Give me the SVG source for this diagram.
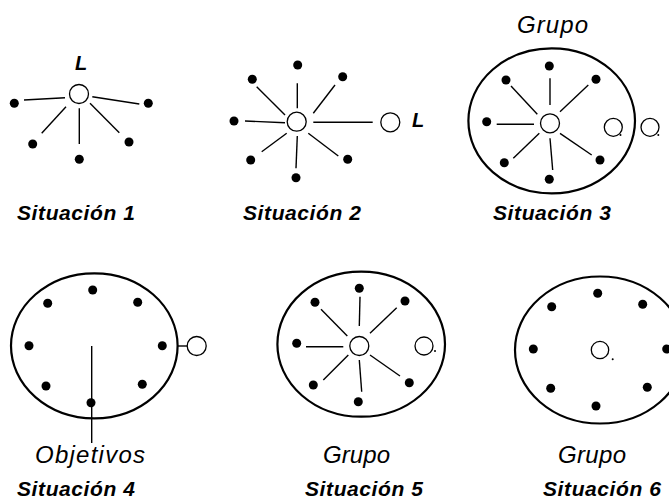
<svg xmlns="http://www.w3.org/2000/svg" width="669" height="502" viewBox="0 0 669 502">
<style>
.bg{fill:#fff}
.dot{fill:#000}
.open{fill:#fff;stroke:#000;stroke-width:1.3}
.grp{fill:none;stroke:#000;stroke-width:2.2}
.ln{stroke:#000;stroke-width:1.4;fill:none}
.sit{font-family:"Liberation Sans",Arial,sans-serif;font-weight:bold;font-style:italic;font-size:21px;fill:#000}
.lab{font-family:"Liberation Sans",Arial,sans-serif;font-style:italic;font-size:24px;fill:#000}
.L{font-family:"Liberation Sans",Arial,sans-serif;font-weight:bold;font-style:italic;font-size:20px;fill:#000}
</style>
<rect class="bg" width="669" height="502"/>
<g id="connectors">
  <line class="ln" x1="24" y1="100" x2="65" y2="97.7"/>
  <line class="ln" x1="92.3" y1="96.7" x2="139.3" y2="104"/>
  <line class="ln" x1="66" y1="106.7" x2="41.7" y2="133.3"/>
  <line class="ln" x1="79.3" y1="108.3" x2="79.3" y2="144"/>
  <line class="ln" x1="90" y1="103.3" x2="119.3" y2="132.7"/>
  <line class="ln" x1="297.3" y1="83.3" x2="297.3" y2="108.3"/>
  <line class="ln" x1="256.7" y1="86.7" x2="285" y2="115"/>
  <line class="ln" x1="335" y1="85" x2="313.3" y2="113.3"/>
  <line class="ln" x1="245" y1="121" x2="285" y2="122.7"/>
  <line class="ln" x1="313.3" y1="122.3" x2="372.7" y2="122.3"/>
  <line class="ln" x1="286.7" y1="133.3" x2="261.7" y2="151.7"/>
  <line class="ln" x1="297.3" y1="136" x2="296" y2="168.3"/>
  <line class="ln" x1="308.3" y1="133.3" x2="338.3" y2="156"/>
  <line class="ln" x1="550" y1="78.3" x2="550" y2="105"/>
  <line class="ln" x1="511" y1="86" x2="537.3" y2="114.3"/>
  <line class="ln" x1="588.3" y1="85" x2="560" y2="111.7"/>
  <line class="ln" x1="496.7" y1="124.3" x2="534" y2="124.3"/>
  <line class="ln" x1="539.3" y1="133.3" x2="513.3" y2="158.3"/>
  <line class="ln" x1="550" y1="138.3" x2="552.7" y2="170"/>
  <line class="ln" x1="560" y1="133.3" x2="591.7" y2="155"/>
  <line class="ln" x1="91.7" y1="346" x2="91.7" y2="443"/>
  <line class="ln" x1="178" y1="346" x2="187" y2="346"/>
  <line class="ln" x1="360" y1="296.7" x2="359.3" y2="326"/>
  <line class="ln" x1="321" y1="309.3" x2="347.3" y2="336"/>
  <line class="ln" x1="396.7" y1="307.7" x2="370" y2="333.3"/>
  <line class="ln" x1="306" y1="346.7" x2="343.3" y2="346.7"/>
  <line class="ln" x1="348.3" y1="355" x2="323.3" y2="380"/>
  <line class="ln" x1="359.3" y1="360" x2="361.7" y2="391.7"/>
  <line class="ln" x1="370" y1="355" x2="400" y2="376"/>
</g>
<g id="situacion1">
  <text class="L" x="75" y="70">L</text>
  <circle class="open" cx="79" cy="94" r="9.5"/>
  <circle class="dot" cx="14.3" cy="103.3" r="4.5"/>
  <circle class="dot" cx="148.3" cy="103.3" r="4.5"/>
  <circle class="dot" cx="32.7" cy="144" r="4.5"/>
  <circle class="dot" cx="129" cy="142" r="4.5"/>
  <circle class="dot" cx="79.3" cy="159.3" r="4.5"/>
  <text class="sit" x="17" y="220" textLength="118" lengthAdjust="spacing">Situación 1</text>
</g>
<g id="situacion2">
  <circle class="open" cx="296.7" cy="121.7" r="9.5"/>
  <circle class="dot" cx="297.7" cy="65" r="4.5"/>
  <circle class="dot" cx="252.3" cy="79.3" r="4.5"/>
  <circle class="dot" cx="342.7" cy="76.7" r="4.5"/>
  <circle class="dot" cx="234" cy="121" r="4.5"/>
  <circle class="dot" cx="250.7" cy="160" r="4.5"/>
  <circle class="dot" cx="296" cy="177.7" r="4.5"/>
  <circle class="dot" cx="347.7" cy="159.3" r="4.5"/>
  <circle class="open" cx="390.3" cy="122.3" r="9.5"/>
  <text class="L" x="412" y="127">L</text>
  <text class="sit" x="243" y="220" textLength="118" lengthAdjust="spacing">Situación 2</text>
</g>
<g id="situacion3">
  <text class="lab" x="517" y="33" textLength="71" lengthAdjust="spacing">Grupo</text>
  <ellipse class="grp" cx="551.7" cy="120.8" rx="83.3" ry="72.5"/>
  <circle class="open" cx="550" cy="123.3" r="9.5"/>
  <circle class="dot" cx="549.3" cy="66" r="4.5"/>
  <circle class="dot" cx="506" cy="80" r="4.5"/>
  <circle class="dot" cx="596" cy="79.3" r="4.5"/>
  <circle class="dot" cx="486.7" cy="121.7" r="4.5"/>
  <circle class="dot" cx="504.3" cy="162.7" r="4.5"/>
  <circle class="dot" cx="549.3" cy="179.3" r="4.5"/>
  <circle class="dot" cx="600" cy="160" r="4.5"/>
  <circle class="open" cx="613.3" cy="127.3" r="9"/>
  <circle class="dot" cx="620.5" cy="135" r="1"/>
  <circle class="open" cx="650" cy="127.3" r="9"/>
  <circle class="dot" cx="658.3" cy="135" r="1"/>
  <text class="sit" x="493" y="220" textLength="118" lengthAdjust="spacing">Situación 3</text>
</g>
<g id="situacion4">
  <ellipse class="grp" cx="94.3" cy="345.8" rx="83.3" ry="72.5"/>
  <circle class="dot" cx="92.7" cy="290" r="4.5"/>
  <circle class="dot" cx="47.7" cy="303.3" r="4.5"/>
  <circle class="dot" cx="137.7" cy="302.3" r="4.5"/>
  <circle class="dot" cx="29" cy="345.7" r="4.5"/>
  <circle class="dot" cx="162.3" cy="345.7" r="4.5"/>
  <circle class="dot" cx="46" cy="386" r="4.5"/>
  <circle class="dot" cx="142.3" cy="384.3" r="4.5"/>
  <circle class="dot" cx="91" cy="402.7" r="4.5"/>
  <circle class="open" cx="196.7" cy="346" r="9.5"/>
  <text class="lab" x="35" y="463" textLength="110" lengthAdjust="spacing">Objetivos</text>
  <text class="sit" x="17" y="496" textLength="118" lengthAdjust="spacing">Situación 4</text>
</g>
<g id="situacion5">
  <ellipse class="grp" cx="361.2" cy="344.2" rx="83.8" ry="72.5"/>
  <circle class="open" cx="359.3" cy="346" r="9.5"/>
  <circle class="dot" cx="359.3" cy="288.3" r="4.5"/>
  <circle class="dot" cx="315" cy="302.3" r="4.5"/>
  <circle class="dot" cx="405" cy="301" r="4.5"/>
  <circle class="dot" cx="296.7" cy="343.3" r="4.5"/>
  <circle class="dot" cx="313.3" cy="385" r="4.5"/>
  <circle class="dot" cx="358.3" cy="401.7" r="4.5"/>
  <circle class="dot" cx="409.3" cy="382.7" r="4.5"/>
  <circle class="open" cx="424" cy="346" r="9"/>
  <circle class="dot" cx="435" cy="351" r="1"/>
  <text class="lab" x="323" y="463" textLength="67" lengthAdjust="spacing">Grupo</text>
  <text class="sit" x="305" y="496" textLength="118" lengthAdjust="spacing">Situación 5</text>
</g>
<g id="situacion6">
  <ellipse class="grp" cx="600" cy="350" rx="85" ry="73.5"/>
  <circle class="open" cx="600" cy="350" r="8.7"/>
  <circle class="dot" cx="612.7" cy="359.3" r="1"/>
  <circle class="dot" cx="597.7" cy="293.3" r="4.5"/>
  <circle class="dot" cx="551.7" cy="306.7" r="4.5"/>
  <circle class="dot" cx="642.7" cy="304.3" r="4.5"/>
  <circle class="dot" cx="533.3" cy="349" r="4.5"/>
  <circle class="dot" cx="666.7" cy="349" r="4.5"/>
  <circle class="dot" cx="550.7" cy="388.3" r="4.5"/>
  <circle class="dot" cx="596" cy="406" r="4.5"/>
  <circle class="dot" cx="647.3" cy="387.3" r="4.5"/>
  <text class="lab" x="558" y="463" textLength="68" lengthAdjust="spacing">Grupo</text>
  <text class="sit" x="543" y="496" textLength="118" lengthAdjust="spacing">Situación 6</text>
</g>
</svg>
